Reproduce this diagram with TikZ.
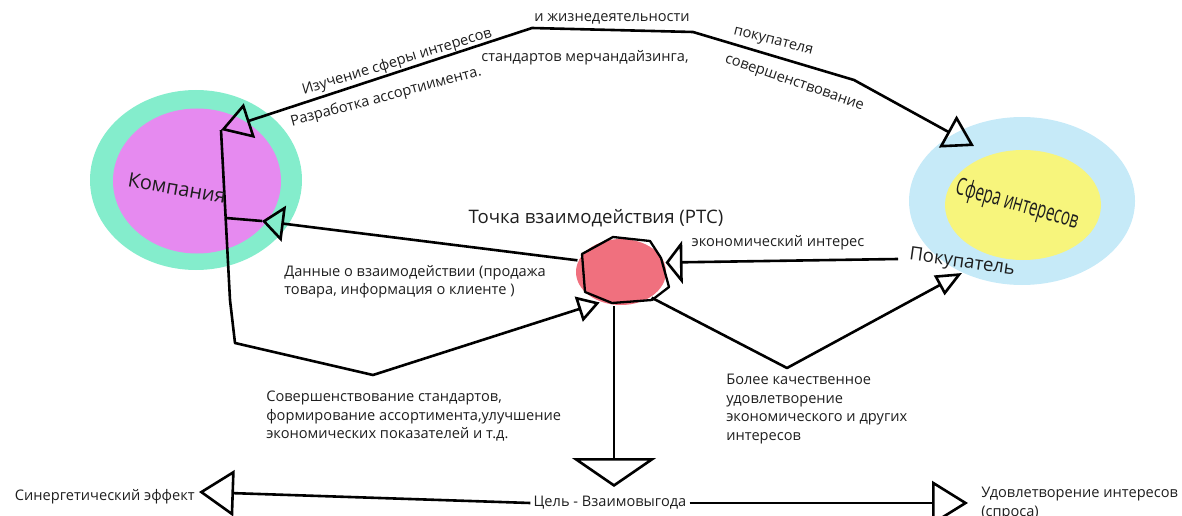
\documentclass[tikz,border=0pt]{standalone}
\usepackage{fontspec}
\usepackage{graphicx}
\setmainfont{Open Sans}
\usetikzlibrary{arrows.meta,shapes.geometric}
\definecolor{tealring}{HTML}{84EDCC}
\definecolor{magcore}{HTML}{E68AF0}
\definecolor{bluering}{HTML}{C6EAF8}
\definecolor{yellowcore}{HTML}{F7F57C}
\definecolor{ptcred}{HTML}{F0707E}
\definecolor{ink}{HTML}{1E1E1E}
\begin{document}
\begin{tikzpicture}[x=1pt, y=-1pt, line width=2.6pt, line join=round, draw=black,
    lbl/.style={font=\fontsize{14.6}{18.5}\selectfont, text=ink, inner sep=0pt, align=left},
    big/.style={font=\fontsize{18.6}{22}\selectfont, text=ink, inner sep=0pt},
    blob/.style={ellipse, inner sep=0pt},
    tri/.style 2 args={-{Triangle[open,length=#1,width=#2]}}]
    \useasboundingbox (0,0) rectangle (1182,516);
    \node[blob, fill=tealring, minimum width=212pt, minimum height=180pt] (comp) at (196,180) {};
    \node[blob, fill=magcore, minimum width=168pt, minimum height=145pt] (compcore) at (197,181) {};
    \node[blob, fill=bluering, minimum width=226pt, minimum height=168pt] (sph) at (1022,201) {};
    \node[blob, fill=yellowcore, minimum width=156pt, minimum height=110pt] (sphcore) at (1023,205) {};
    \node[blob, fill=ptcred, minimum width=90pt, minimum height=66pt] (ptc) at (621,272) {};
    \draw[line width=2.3pt] (582,254) -- (613,237) -- (650,241) -- (661,258) -- (669,287) -- (652,300) -- (612,303) -- (585,292) -- cycle;

    \coordinate (tl) at (221,130);
    \coordinate (k1) at (532,28);
    \coordinate (k2) at (693,32);
    \coordinate (k3) at (854,80);
    \coordinate (tr) at (974,146);
    \coordinate (v1) at (230,300);
    \coordinate (v2) at (235,343);
    \coordinate (v3) at (373,375);
    \coordinate (j1) at (226,218);
    \coordinate (tc) at (262,221);
    \coordinate (b0) at (898,259);
    \coordinate (d1) at (787,368);
    \coordinate (bt) at (962,273);
    \coordinate (gt) at (614,487);
    \coordinate (st) at (199,492);
    \coordinate (ut) at (968,503);

    \draw[{Triangle[open,length=30pt,width=36pt]}-{Triangle[open,length=30pt,width=36pt]}] (tl) -- (k1) -- (k2) -- (k3) -- (tr);
    \draw[tri={22pt}{26pt}] (tl) -- (v1) -- (v2) -- (v3) -- (ptc.-125);
    \draw[tri={22pt}{36pt}] (ptc.165) -- (tc);
    \draw (tc) -- (j1);
    \draw[tri={17pt}{43pt}] (b0) -- (ptc.12);
    \draw[tri={26pt}{22pt}] (ptc.-40) -- (d1) -- (bt);
    \draw[tri={29pt}{84pt}] (ptc.south -| gt) -- (gt);

    \node[lbl, inner sep=2pt] (goal) at (610,503) {Цель - Взаимовыгода};
    \draw[tri={35pt}{46pt}] (goal.west) -- (st);
    \draw[tri={36pt}{44pt}] (goal.east) -- (ut);

    \node[lbl, rotate=17] (study) at (397,62) {Изучение сферы интересов};
    \node[lbl, rotate=15] (dev) at (386,97) {Разработка ассортиимента.};
    \node[lbl] (life) at (612,19) {и жизнедеятельности};
    \node[lbl] (merch) at (585,58) {стандартов мерчандайзинга,};
    \node[lbl, rotate=-14] (buyerof) at (773,42) {покупателя};
    \node[lbl, rotate=-19] (improve) at (794,84) {совершенствование};
    \node[big, font=\fontsize{20}{24}\selectfont, rotate=-10] (complbl) at (177,188) {Компания};
    \node[text=ink, inner sep=0pt, font=\fontsize{15}{18}\selectfont, rotate=-16] (sphlbl) at (1017,205) {\scalebox{1}[1.6]{Сфера интересов}};
    \node[big, rotate=-8] (buyer) at (962,263) {Покупатель};
    \node[big] (ptclbl) at (596,218) {Точка взаимодействия (РТС)};
    \node[lbl] (econ) at (778,243) {экономический интерес};
    \node[lbl, anchor=north west] (data) at (283,264) {Данные о взаимодействии (продажа\\товара, информация о клиенте )};
    \node[lbl, anchor=north west] (stand) at (265,390) {Совершенствование стандартов,\\формирование ассортимента,улучшение\\экономических показателей и т.д.};
    \node[lbl, anchor=north west] (better) at (725,373) {Более качественное\\удовлетворение\\экономического и других\\интересов};
    \node[lbl, anchor=east] (syn) at (196,497) {Синергетический эффект};
    \node[lbl, anchor=north west] (satis) at (980,486) {Удовлетворение интересов\\(спроса)};
\end{tikzpicture}
\end{document}
